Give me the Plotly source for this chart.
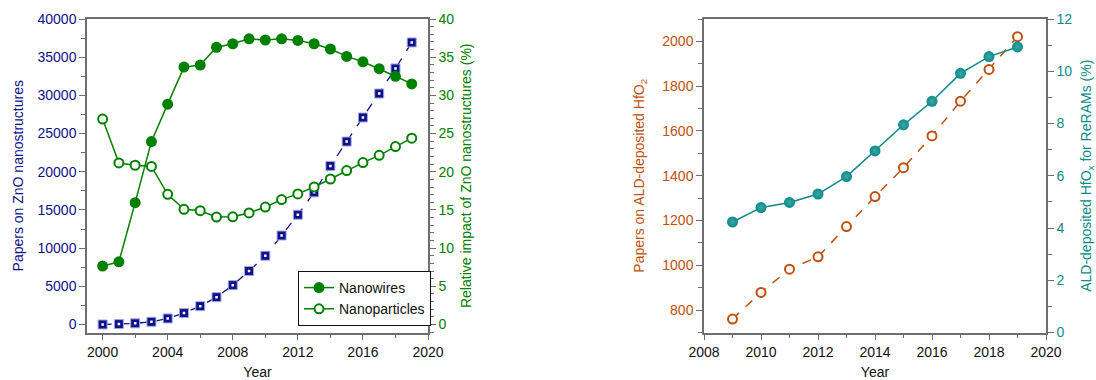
import plotly.graph_objects as go

# ---------- data: left panel (ZnO) ----------
years_zno = list(range(2000, 2020))
papers_zno = [0, 50, 150, 350, 790, 1490, 2400, 3580, 5150, 7000,
              9000, 11650, 14370, 17300, 20760, 23950, 27100, 30240, 33520, 36930]
nanowires = [7.65, 8.2, 15.95, 23.95, 28.85, 33.7, 33.97, 36.3, 36.76, 37.4,
             37.25, 37.4, 37.2, 36.76, 36.07, 35.1, 34.4, 33.5, 32.5, 31.5]
nanoparticles = [26.9, 21.15, 20.85, 20.7, 17.05, 15.08, 14.9, 14.07, 14.1, 14.6,
                 15.38, 16.35, 17.1, 18.0, 19.05, 20.15, 21.2, 22.15, 23.3, 24.4]

# ---------- data: right panel (HfO2) ----------
years_hfo = list(range(2009, 2020))
papers_hfo = [760, 879, 983, 1038, 1173, 1307, 1436, 1578, 1733, 1875, 2021]
reram_pct = [4.23, 4.78, 4.98, 5.30, 5.97, 6.95, 7.95, 8.85, 9.92, 10.56, 10.93]

NAVY = "#10108a"
GREEN = "#008000"
ORANGE = "#c0500f"
TEAL = "#0b8a8a"
AXIS = "#6e6e6e"
FONT = "Liberation Sans, Arial, sans-serif"

W, H = 1096, 380
def px_x(p):
    return p / W
def px_y(p):
    return (H - p) / H

fig = go.Figure()

# Left panel traces
fig.add_trace(go.Scatter(
    x=years_zno, y=papers_zno, mode="lines+markers", name="Papers",
    line=dict(color=NAVY, width=1.3, dash="dash"),
    marker=dict(symbol="square", size=9, color=NAVY, line=dict(color="#9fa8e0", width=1)),
    xaxis="x", yaxis="y", showlegend=False))
fig.add_trace(go.Scatter(
    x=years_zno, y=papers_zno, mode="markers", hoverinfo="skip",
    marker=dict(symbol="square", size=2.5, color="white"),
    xaxis="x", yaxis="y", showlegend=False))
fig.add_trace(go.Scatter(
    x=years_zno, y=nanowires, mode="lines+markers", name="Nanowires",
    line=dict(color=GREEN, width=1.5),
    marker=dict(symbol="circle", size=11, color=GREEN),
    xaxis="x", yaxis="y2"))
fig.add_trace(go.Scatter(
    x=years_zno, y=nanoparticles, mode="lines+markers", name="Nanoparticles",
    line=dict(color=GREEN, width=1.5),
    marker=dict(symbol="circle", size=9, color="white", line=dict(color=GREEN, width=2)),
    xaxis="x", yaxis="y2"))

# Right panel traces
fig.add_trace(go.Scatter(
    x=years_hfo, y=papers_hfo, mode="lines+markers", name="Papers HfO2",
    line=dict(color=ORANGE, width=1.5, dash="dash"),
    marker=dict(symbol="circle", size=9, color="white", line=dict(color=ORANGE, width=2)),
    xaxis="x2", yaxis="y3", showlegend=False))
fig.add_trace(go.Scatter(
    x=years_hfo, y=reram_pct, mode="lines+markers", name="ReRAM",
    line=dict(color=TEAL, width=1.5),
    marker=dict(symbol="circle", size=11, color=TEAL,
                gradient=dict(type="radial", color="#3fa6a6")),
    xaxis="x2", yaxis="y4", showlegend=False))

tickfont_black = dict(family=FONT, size=14, color="#111111")
common_axis = dict(showline=True, linecolor=AXIS, linewidth=1.5, ticks="outside",
                   tickcolor=AXIS, ticklen=6, tickwidth=1.2, showgrid=False,
                   zeroline=False, automargin=False)

left_dom = [px_x(87), px_x(428)]
right_dom = [px_x(704), px_x(1046)]
ydom = [px_y(332.5), px_y(19)]

fig.update_layout(
    width=W, height=H,
    margin=dict(l=0, r=0, t=0, b=0),
    paper_bgcolor="white", plot_bgcolor="white",
    font=dict(family=FONT, size=14),
    xaxis=dict(domain=left_dom, anchor="y", range=[1999.04, 2020],
               tickvals=[2000, 2004, 2008, 2012, 2016, 2020],
               minor=dict(dtick=2, tick0=2000, ticks="outside", ticklen=4, tickcolor=AXIS),
               mirror=True, tickfont=tickfont_black,
               title=dict(text="Year", font=tickfont_black, standoff=12),
               **common_axis),
    yaxis=dict(domain=ydom, anchor="x", range=[-1050, 40000], dtick=5000,
               tickformat="d",
               minor=dict(dtick=2500, ticks="outside", ticklen=4, tickcolor=AXIS),
               tickfont=dict(family=FONT, size=14, color=NAVY),
               title=dict(text="Papers on ZnO nanostructures",
                          font=dict(family=FONT, size=14, color=NAVY), standoff=11),
               **common_axis),
    yaxis2=dict(overlaying="y", side="right", anchor="x", range=[-1.05, 40], dtick=5,
                minor=dict(dtick=1, ticks="outside", ticklen=4, tickcolor=AXIS),
                tickfont=dict(family=FONT, size=14, color=GREEN),
                title=dict(text="Relative impact of ZnO nanostructures (%)",
                           font=dict(family=FONT, size=14, color=GREEN), standoff=8),
                **common_axis),
    xaxis2=dict(domain=right_dom, anchor="y3", range=[2008, 2020], dtick=2,
                minor=dict(dtick=1, ticks="outside", ticklen=4, tickcolor=AXIS),
                mirror=True, tickfont=tickfont_black,
                title=dict(text="Year", font=tickfont_black, standoff=12),
                **common_axis),
    yaxis3=dict(domain=ydom, anchor="x2", range=[700, 2100], dtick=200,
                minor=dict(dtick=100, ticks="outside", ticklen=4, tickcolor=AXIS),
                tickfont=dict(family=FONT, size=14, color=ORANGE),
                title=dict(text="Papers on ALD-deposited HfO<sub>2</sub>",
                           font=dict(family=FONT, size=14, color=ORANGE), standoff=14),
                **common_axis),
    yaxis4=dict(overlaying="y3", side="right", anchor="x2", range=[0, 12], dtick=2,
                minor=dict(dtick=1, ticks="outside", ticklen=4, tickcolor=AXIS),
                tickfont=dict(family=FONT, size=14, color=TEAL),
                title=dict(text="ALD-deposited HfO<sub>x</sub> for ReRAMs (%)",
                           font=dict(family=FONT, size=14, color=TEAL), standoff=23),
                **common_axis),
    legend=dict(x=px_x(298), y=px_y(326), xanchor="left", yanchor="bottom",
                bordercolor="#111111", borderwidth=1, bgcolor="white",
                font=dict(family=FONT, size=14, color="#111111"),
                tracegroupgap=0, itemwidth=30),
)

fig.write_html("out.html", config={"displayModeBar": False},
               post_script="document.body.style.margin='0';document.body.style.overflow='hidden';")
